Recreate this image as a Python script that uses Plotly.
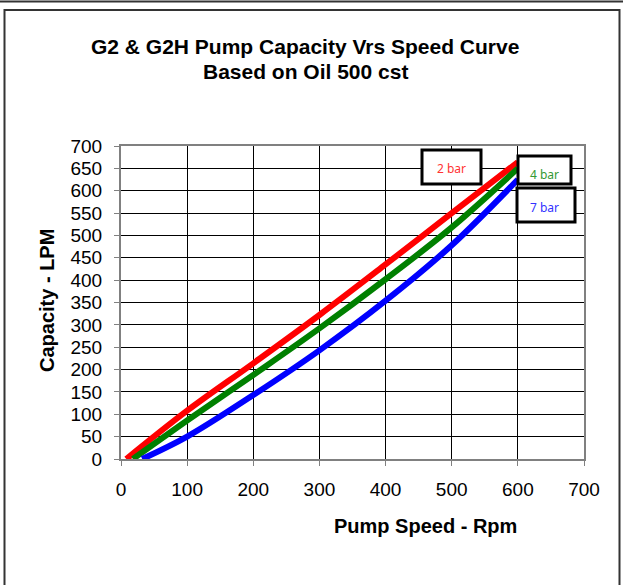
import plotly.graph_objects as go

# ---- data ----
speed_2bar = [8, 100, 200, 300, 400, 500, 600]
cap_2bar = [0, 108, 214, 322, 435, 550, 664]
speed_4bar = [18, 100, 200, 300, 400, 500, 600]
cap_4bar = [0, 86, 188, 292, 402, 518, 650]
speed_7bar = [32, 100, 200, 300, 400, 500, 600]
cap_7bar = [0, 50, 143, 243, 354, 478, 625]

labels = ["2 bar", "4 bar", "7 bar"]
x_ticks = [0, 100, 200, 300, 400, 500, 600, 700]
y_ticks = list(range(0, 701, 50))

W, H = 623, 585
L, R, T, B = 121, 584, 146, 459  # plot area in pixels


def px(xp):
    return (xp - L) / (R - L)


def py(yp):
    return (B - yp) / (B - T)


fig = go.Figure()
series = [
    (speed_2bar, cap_2bar, "#FF0000", labels[0]),
    (speed_4bar, cap_4bar, "#008000", labels[1]),
    (speed_7bar, cap_7bar, "#0000FF", labels[2]),
]
for xs, ys, col, name in series:
    fig.add_trace(go.Scatter(x=xs, y=ys, mode="lines", name=name,
                             line=dict(color=col, width=6, shape="spline", smoothing=1.0),
                             showlegend=False, hoverinfo="skip"))

font_main = "Liberation Sans, Arial, sans-serif"

fig.update_xaxes(range=[0, 700], tickvals=x_ticks, ticktext=[str(v) for v in x_ticks],
                 showgrid=True, gridcolor="#000000", gridwidth=1, zeroline=False,
                 showline=True, linecolor="#808080", linewidth=2, mirror=True,
                 ticks="outside", ticklen=5, tickcolor="#808080", tickwidth=1,
                 ticklabelstandoff=7,
                 tickfont=dict(family=font_main, size=19, color="#000000"))
fig.update_yaxes(range=[0, 700], tickvals=y_ticks, ticktext=[str(v) for v in y_ticks],
                 showgrid=True, gridcolor="#000000", gridwidth=1, zeroline=False,
                 showline=True, linecolor="#808080", linewidth=2, mirror=True,
                 ticks="outside", ticklen=5, tickcolor="#808080", tickwidth=1,
                 ticklabelstandoff=8,
                 tickfont=dict(family=font_main, size=19, color="#000000"))

shapes = []
# outer frame
shapes.append(dict(type="line", xref="paper", yref="paper", x0=px(0), x1=px(W), y0=py(1.5), y1=py(1.5),
                   line=dict(color="#333333", width=2)))
shapes.append(dict(type="rect", xref="paper", yref="paper", x0=px(4.5), x1=px(619.5), y0=py(590), y1=py(10),
                   line=dict(color="#333333", width=2)))
# label boxes
boxes = [(422, 481, 150, 184), (518, 571, 156, 184), (517, 575, 188, 222)]
for x0, x1, y0, y1 in boxes:
    shapes.append(dict(type="rect", xref="paper", yref="paper", x0=px(x0), x1=px(x1), y0=py(y1), y1=py(y0),
                       fillcolor="white", line=dict(color="black", width=3), layer="above"))

annotations = [
    dict(text="<b>G2 & G2H Pump Capacity Vrs Speed Curve</b>", xref="paper", yref="paper",
         x=px(305), y=py(46), showarrow=False, xanchor="center", yanchor="middle",
         font=dict(family=font_main, size=21, color="#000000")),
    dict(text="<b>Based on Oil 500 cst</b>", xref="paper", yref="paper",
         x=px(305), y=py(71), showarrow=False, xanchor="center", yanchor="middle",
         font=dict(family=font_main, size=21, color="#000000")),
    dict(text="<b>Pump Speed - Rpm</b>", xref="paper", yref="paper",
         x=px(425), y=py(526), showarrow=False, xanchor="center", yanchor="middle",
         font=dict(family=font_main, size=20, color="#000000")),
    dict(text="<b>Capacity - LPM</b>", xref="paper", yref="paper", textangle=-90,
         x=px(47), y=py(301), showarrow=False, xanchor="center", yanchor="middle",
         font=dict(family=font_main, size=20, color="#000000")),
]
label_pos = [(451, 168, "#FF3333"), (544, 174, "#339933"), (544, 207, "#3333FF")]
for (xc, yc, col), txt in zip(label_pos, labels):
    annotations.append(dict(text=txt, xref="paper", yref="paper", x=px(xc), y=py(yc),
                            showarrow=False, xanchor="center", yanchor="middle",
                            font=dict(family="Noto Sans, DejaVu Sans, sans-serif", size=12, color=col)))

fig.update_layout(width=W, height=H, margin=dict(l=L, r=W - R, t=T, b=H - B),
                  paper_bgcolor="white", plot_bgcolor="white",
                  shapes=shapes, annotations=annotations)

fig.write_html("out.html", config={"displayModeBar": False},
               post_script="document.body.style.margin='0px';")
